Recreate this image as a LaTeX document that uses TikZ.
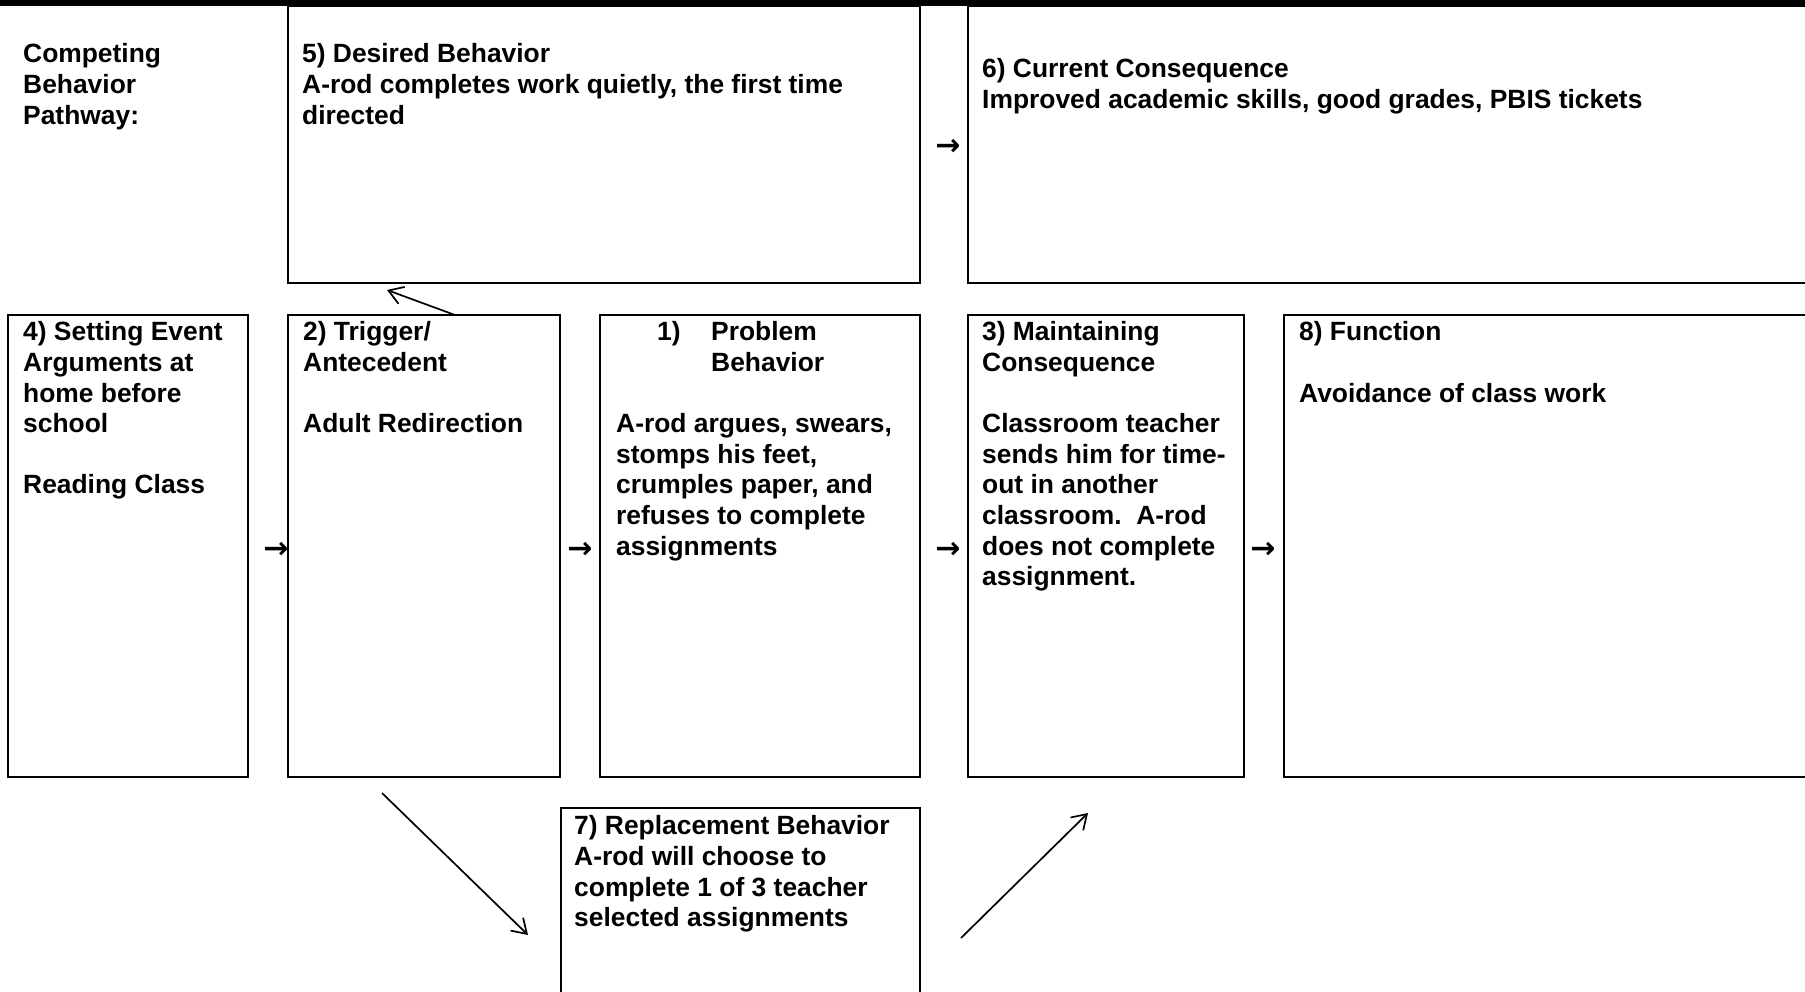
\documentclass[tikz,border=0pt]{standalone}
\usepackage{fontspec}
\setmainfont{Liberation Sans}
\newfontfamily\arrowfont{DejaVu Sans}
\usepackage{tikz}
\usetikzlibrary{arrows.meta}

\begin{document}
\begin{tikzpicture}[x=1pt,y=-1pt,
                    box/.style={draw, line width=2.9pt, anchor=north west, inner sep=0pt, outer sep=0pt},
                    txt/.style={anchor=north west, align=left, inner sep=0pt, font=\bfseries\fontsize{26.4}{30.6}\selectfont},
                    glyph/.style={inner sep=0pt, font=\arrowfont\bfseries\fontsize{30}{30}\selectfont},
                    link/.style={-{Straight Barb[length=14pt,width=18pt]}, line width=1.7pt}]
                    \useasboundingbox (0,0) rectangle (1805,992);
                    \clip (0,0) rectangle (1805,992);
                    \fill (0,0) rectangle (1805,6.5);
                    \node[box, minimum width=632pt, minimum height=277pt] (desired) at (288,6) {};
                    \node[box, minimum width=862pt, minimum height=277pt] (current) at (968,6) {};
                    \node[box, minimum width=240pt, minimum height=462pt] (setting) at (8,315) {};
                    \node[box, minimum width=272pt, minimum height=462pt] (trigger) at (288,315) {};
                    \node[box, minimum width=320pt, minimum height=462pt] (problem) at (600,315) {};
                    \node[box, minimum width=276pt, minimum height=462pt] (maintain) at (968,315) {};
                    \node[box, minimum width=546pt, minimum height=462pt] (function) at (1284,315) {};
                    \node[box, minimum width=359pt, minimum height=210pt] (replace) at (561,808) {};
                    \node[txt] (pathway) at (23,43.5) {Competing\\Behavior\\Pathway:};
                    \node[txt] at ([xshift=14pt,yshift=-37.5pt]desired.north west) {5) Desired Behavior\\A-rod completes work quietly, the first time\\directed};
                    \node[txt] at ([xshift=14pt,yshift=-52.5pt]current.north west) {6) Current Consequence\\Improved academic skills, good grades, PBIS tickets};
                    \node[txt] at ([xshift=15pt,yshift=-6.5pt]setting.north west) {4) Setting Event\\Arguments at\\home before\\school\\[30.6pt]Reading Class};
                    \node[txt] at ([xshift=15pt,yshift=-6.5pt]trigger.north west) {2) Trigger/\\Antecedent\\[30.6pt]Adult Redirection};
                    \node[txt] at ([xshift=57pt,yshift=-6.5pt]problem.north west) {1)};
                    \node[txt] at ([xshift=111pt,yshift=-6.5pt]problem.north west) {Problem\\Behavior};
                    \node[txt] at ([xshift=16pt,yshift=-98.3pt]problem.north west) {A-rod argues, swears,\\stomps his feet,\\crumples paper, and\\refuses to complete\\assignments};
                    \node[txt] at ([xshift=14pt,yshift=-6.5pt]maintain.north west) {3) Maintaining\\Consequence\\[30.6pt]Classroom teacher\\sends him for time-\\out in another\\classroom.~~A-rod\\does not complete\\assignment.};
                    \node[txt] at ([xshift=15pt,yshift=-6.5pt]function.north west) {8) Function\\[30.6pt]Avoidance of class work};
                    \node[txt] at ([xshift=13pt,yshift=-7.5pt]replace.north west) {7) Replacement Behavior\\A-rod will choose to\\complete 1 of 3 teacher\\selected assignments};
                    \node[glyph] (a1) at (948,147) {→};
                    \node[glyph] (a2) at (276,550) {→};
                    \node[glyph] (a3) at (580,550) {→};
                    \node[glyph] (a4) at (948,550) {→};
                    \node[glyph] (a5) at (1263,550) {→};
                    \coordinate (up end) at (387,290);
                    \coordinate (down start) at (382,793);
                    \coordinate (down end) at (528,935);
                    \coordinate (rise start) at (961,938);
                    \coordinate (rise end) at (1088,813);
                    \draw[link] ([xshift=167pt]trigger.north west) -- (up end);
                    \draw[link] (down start) -- (down end);
                    \draw[link] (rise start) -- (rise end);
\end{tikzpicture}
\end{document}
